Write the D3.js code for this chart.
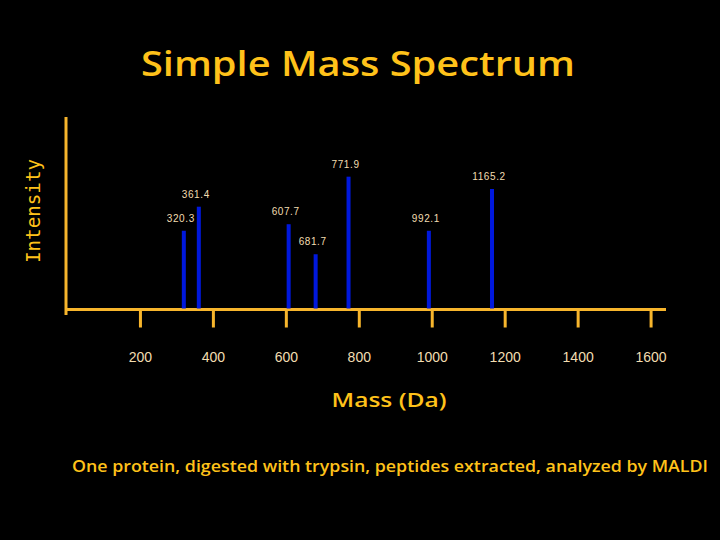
<!DOCTYPE html>
<html>
<head>
<meta charset="utf-8">
<script src="https://cdn.jsdelivr.net/npm/d3@7"></script>
<style>
html,body{margin:0;padding:0;background:#000;}
svg{display:block;}
</style>
</head>
<body>
<script>
const masses = [320.3, 361.4, 607.7, 681.7, 771.9, 992.1, 1165.2];
const intensities = [40.9, 53.4, 44.3, 28.7, 69.0, 40.9, 62.6];
const xTicks = [200, 400, 600, 800, 1000, 1200, 1400, 1600];
const titleText = "Simple Mass Spectrum";
const xLabel = "Mass (Da)";
const yLabel = "Intensity";
const caption = "One protein, digested with trypsin, peptides extracted, analyzed by MALDI";

const W = 720, H = 540;
const gold = "#FFC21A", axisCol = "#F7B52C", tickText = "#F2DDB0";

const svg = d3.select("body").append("svg").attr("width", W).attr("height", H)
  .style("background", "#000");

const x = d3.scaleLinear().domain([0, 1645]).range([67, 667]);
const y = d3.scaleLinear().domain([0, 100]).range([309.5, 117]);

// title
svg.append("text").attr("x", 358).attr("y", 76).attr("text-anchor", "middle")
  .attr("font-family", "'Open Sans', sans-serif").attr("font-size", 34).attr("font-weight", 600)
  .attr("fill", gold).attr("textLength", 434).attr("lengthAdjust", "spacingAndGlyphs")
  .text(titleText);

// y axis line
svg.append("line").attr("x1", 66).attr("x2", 66).attr("y1", 117).attr("y2", 315)
  .attr("stroke", axisCol).attr("stroke-width", 3);

// x axis
const gx = svg.append("g").attr("transform", "translate(0,309.5)")
  .call(d3.axisBottom(x).tickValues(xTicks).tickSize(18).tickSizeOuter(0).tickFormat(d3.format("d")));
gx.select(".domain").attr("stroke", axisCol).attr("stroke-width", 3)
  .attr("d", `M66,0H666`);
gx.selectAll(".tick line").attr("stroke", axisCol).attr("stroke-width", 3);
gx.selectAll(".tick text").attr("y", 52.5).attr("dy", null)
  .attr("fill", tickText).attr("font-family", "'Liberation Sans', Arial, sans-serif")
  .attr("font-size", 14);

// bars
const data = masses.map((m, i) => ({m, v: intensities[i]}));
svg.selectAll("rect.bar").data(data).enter().append("rect").attr("class", "bar")
  .attr("x", d => x(d.m) - 2).attr("width", 4)
  .attr("y", d => y(d.v)).attr("height", d => y(0) - y(d.v) - 1)
  .attr("fill", "#0018DC");

// peak labels
svg.selectAll("text.pk").data(data).enter().append("text").attr("class", "pk")
  .attr("x", d => x(d.m) - 3).attr("y", d => y(d.v) - 9)
  .attr("text-anchor", "middle").attr("fill", tickText)
  .attr("font-family", "'Liberation Sans', Arial, sans-serif").attr("font-size", 10)
  .attr("letter-spacing", 0.6)
  .text(d => d3.format(".1f")(d.m));

// y label
svg.append("text").attr("transform", "translate(40,211) rotate(-90)")
  .attr("text-anchor", "middle").attr("fill", gold)
  .attr("font-family", "'DejaVu Sans Mono', monospace").attr("font-size", 19)
  .attr("textLength", 104).attr("lengthAdjust", "spacingAndGlyphs")
  .text(yLabel);

// x label
svg.append("text").attr("x", 389).attr("y", 407).attr("text-anchor", "middle")
  .attr("fill", gold).attr("font-family", "'Open Sans', sans-serif").attr("font-size", 20)
  .attr("font-weight", 600)
  .attr("textLength", 115).attr("lengthAdjust", "spacingAndGlyphs")
  .text(xLabel);

// caption
svg.append("text").attr("x", 390).attr("y", 472).attr("text-anchor", "middle")
  .attr("fill", gold).attr("font-family", "'Open Sans', sans-serif").attr("font-size", 17)
  .attr("font-weight", 600)
  .attr("textLength", 636).attr("lengthAdjust", "spacingAndGlyphs")
  .text(caption);
</script>
</body>
</html>
